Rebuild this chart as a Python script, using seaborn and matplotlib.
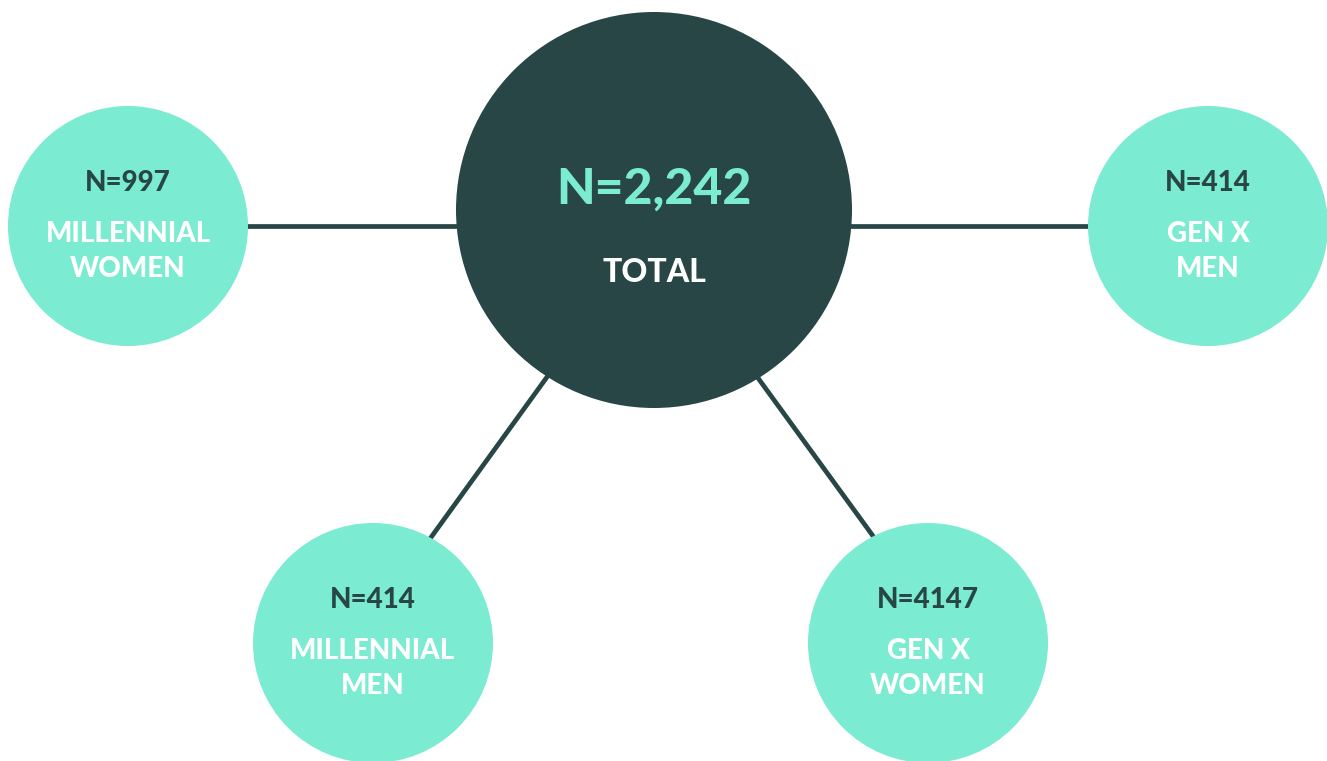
import pandas as pd
import matplotlib.pyplot as plt
import seaborn as sns

# 표본 구성 데이터
total_label = 'TOTAL'
total_n = 2242
groups = ['MILLENNIAL\nWOMEN', 'GEN X\nMEN', 'MILLENNIAL\nMEN', 'GEN X\nWOMEN']
group_n = [997, 414, 414, 4147]

# 배치 (픽셀 단위, 위에서 아래로)
hub_xy = (654, 210)
node_xy = [(128, 226), (1208, 226), (373, 643), (928, 643)]
# 연결선이 중앙 원과 만나는 점
hub_anchor = [(470, 226), (840, 226), (547, 377), (758, 378)]
node_anchor = [(240, 226), (1100, 226), (432, 536), (873, 536)]

DARK = '#284646'
TEAL = '#7BEBD2'
W, H, DPI = 1327, 761, 100

sns.set_theme(style='white')
plt.rcParams['font.family'] = ['Lato', 'DejaVu Sans']

fig = plt.figure(figsize=(W / DPI, H / DPI), dpi=DPI)
ax = fig.add_axes([0, 0, 1, 1])
ax.set_xlim(0, W)
ax.set_ylim(H, 0)
ax.axis('off')

# 연결선
for (hx, hy), (nx, ny) in zip(hub_anchor, node_anchor):
    dx, dy = nx - hx, ny - hy
    xs = [hx - 0.1 * dx, nx + 0.1 * dx]
    ys = [hy - 0.1 * dy, ny + 0.1 * dy]
    ax.plot(xs, ys, color=DARK, lw=3.4, solid_capstyle='butt', zorder=1)

# 원 (마커 크기 = 지름(pt)^2)
def msize(r_px):
    return (2 * r_px * 72 / DPI) ** 2

nodes = pd.DataFrame({
    'x': [hub_xy[0]] + [p[0] for p in node_xy],
    'y': [hub_xy[1]] + [p[1] for p in node_xy],
    'kind': ['total'] + ['group'] * len(groups),
})
sns.scatterplot(data=nodes, x='x', y='y', hue='kind', size='kind',
                palette={'total': DARK, 'group': TEAL},
                sizes={'total': msize(198), 'group': msize(120)},
                linewidth=0, legend=False, ax=ax, zorder=2)
ax.set_xlim(0, W)
ax.set_ylim(H, 0)
ax.axis('off')

# 텍스트
ax.text(hub_xy[0], hub_xy[1] - 6, f'N={total_n:,}', color=TEAL, fontsize=36,
        fontweight='black', ha='center', va='baseline', zorder=3)
ax.text(hub_xy[0], hub_xy[1] + 72, total_label, color='white', fontsize=23,
        fontweight='black', ha='center', va='baseline', zorder=3)

for (x, y), g, n in zip(node_xy, groups, group_n):
    ax.text(x, y - 35, f'N={n}', color=DARK, fontsize=20,
            fontweight='black', ha='center', va='baseline', zorder=3)
    for i, line in enumerate(g.split('\n')):
        ax.text(x, y + 16 + 35 * i, line, color='white', fontsize=20,
                fontweight='black', ha='center', va='baseline', zorder=3)

fig.savefig('out.png', dpi=DPI, facecolor='white')
